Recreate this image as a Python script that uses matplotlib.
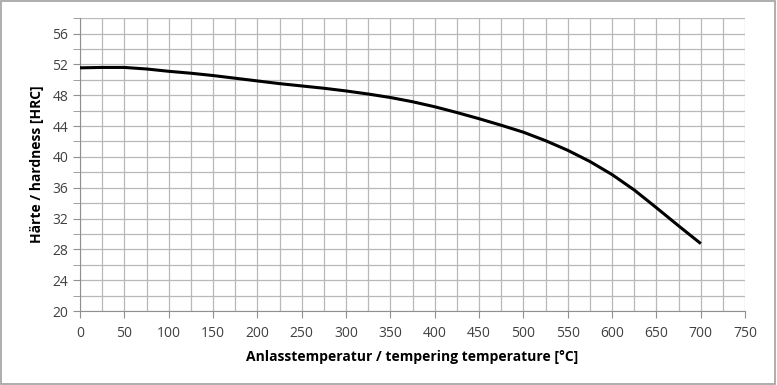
import matplotlib.pyplot as plt
from matplotlib.ticker import MultipleLocator
from matplotlib.patches import Rectangle

# tempering curve, every 25 degC
temperature = [0, 25, 50, 75, 100, 125, 150, 175, 200, 225, 250, 275, 300, 325, 350,
               375, 400, 425, 450, 475, 500, 525, 550, 575, 600, 625, 650, 675, 700]
hardness = [51.55, 51.6, 51.6, 51.4, 51.1, 50.85, 50.55, 50.2, 49.85, 49.5, 49.2, 48.9,
            48.55, 48.15, 47.7, 47.15, 46.5, 45.75, 44.95, 44.1, 43.2, 42.1, 40.85, 39.4,
            37.7, 35.7, 33.4, 31.05, 28.75]

x_label = 'Anlasstemperatur / tempering temperature [°C]'
y_label = 'Härte / hardness [HRC]'

plt.rcParams['font.family'] = ['Open Sans', 'DejaVu Sans']

fig = plt.figure(figsize=(7.77, 3.85), dpi=100)
fig.patches.append(Rectangle((0.001, 0.002), 0.997, 0.995, transform=fig.transFigure,
                             fill=False, edgecolor='#a0a0a0', linewidth=1.2))
ax = fig.add_axes([0.103, 0.192, 0.856, 0.761])

ax.plot(temperature, hardness, color='black', linewidth=2.2, solid_capstyle='butt',
        solid_joinstyle='round', zorder=3)

ax.set_xlim(0, 750)
ax.set_ylim(20, 58)
ax.xaxis.set_major_locator(MultipleLocator(50))
ax.xaxis.set_minor_locator(MultipleLocator(25))
ax.yaxis.set_major_locator(MultipleLocator(4))
ax.yaxis.set_minor_locator(MultipleLocator(2))

ax.grid(which='both', color='#b8b8b8', linewidth=0.9)
ax.set_axisbelow(True)

for side in ['top', 'right']:
    ax.spines[side].set_visible(False)
for side in ['left', 'bottom']:
    ax.spines[side].set_color('#909090')

ax.tick_params(axis='both', which='major', length=5, color='#909090', labelsize=10,
               labelcolor='#404040')
ax.tick_params(axis='y', which='minor', length=5, color='#909090')
ax.tick_params(axis='x', which='minor', length=0)
ax.tick_params(axis='x', pad=6)

ax.set_xlabel(x_label, fontsize=10, fontweight='bold', labelpad=6)
ax.set_ylabel(y_label, fontsize=10, fontweight='bold', labelpad=6)

fig.savefig('out.png', dpi=100)
